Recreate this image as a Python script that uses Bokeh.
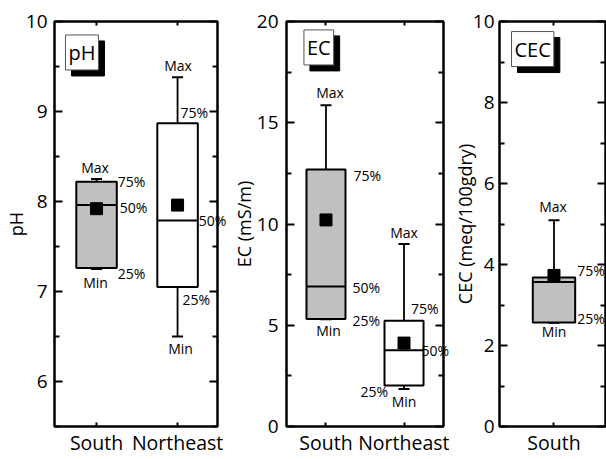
from bokeh.plotting import figure
from bokeh.models import Range1d, LinearAxis, FixedTicker, Label, ColumnDataSource
from bokeh.layouts import row
from bokeh.embed import file_html
from bokeh.resources import INLINE

FONT = "Open Sans"

# ---------------- data ----------------
ph_sites = ["South", "Northeast"]
ph_min = [7.25, 6.50]
ph_q1 = [7.26, 7.05]
ph_med = [7.96, 7.79]
ph_q3 = [8.22, 8.87]
ph_max = [8.25, 9.38]
ph_mean = [7.92, 7.96]
ph_ticks = [6, 7, 8, 9, 10]

ec_sites = ["South", "Northeast"]
ec_min = [5.30, 1.85]
ec_q1 = [5.31, 2.03]
ec_med = [6.91, 3.77]
ec_q3 = [12.69, 5.22]
ec_max = [15.86, 9.01]
ec_mean = [10.20, 4.12]
ec_ticks = [0, 5, 10, 15, 20]

cec_sites = ["South"]
cec_min = [2.56]
cec_q1 = [2.57]
cec_med = [3.57]
cec_q3 = [3.68]
cec_max = [5.09]
cec_mean = [3.73]
cec_ticks = [0, 2, 4, 6, 8, 10]

site_fill = {"South": "#c0c0c0", "Northeast": "white"}

H = 458
TOP, BOTTOM = 21, 31


def panel(sites, vmin, vq1, vmed, vq3, vmax, vmean, yticks, yrange, xrange,
          width, bl, br, box_w, title, tick_standoff, title_standoff, tag, tag_xy, notes):
    p = figure(width=width, height=H, x_range=Range1d(*xrange), y_range=Range1d(*yrange),
               output_backend="svg", toolbar_location=None,
               min_border_left=bl, min_border_right=br,
               min_border_top=TOP, min_border_bottom=BOTTOM)
    p.grid.visible = False
    p.outline_line_color = "black"
    p.outline_line_width = 2
    p.background_fill_color = "white"
    p.border_fill_color = "white"

    xs = list(range(1, len(sites) + 1))
    src = ColumnDataSource(dict(
        x=xs, lo=vmin, q1=vq1, med=vmed, q3=vq3, hi=vmax, mean=vmean,
        left=[x - box_w / 2 for x in xs], right=[x + box_w / 2 for x in xs],
        fill=[site_fill[s] for s in sites]))

    # whiskers + caps
    p.segment(x0="x", y0="q3", x1="x", y1="hi", source=src, line_color="black", line_width=1.8)
    p.segment(x0="x", y0="q1", x1="x", y1="lo", source=src, line_color="black", line_width=1.8)
    p.scatter(x="x", y="hi", source=src, marker="dash", size=11, line_color="black", line_width=2)
    p.scatter(x="x", y="lo", source=src, marker="dash", size=11, line_color="black", line_width=2)
    # boxes
    p.vbar(x="x", width=box_w, bottom="q1", top="q3", source=src,
           fill_color="fill", line_color="black", line_width=2)
    # median
    p.segment(x0="left", y0="med", x1="right", y1="med", source=src, line_color="black", line_width=2)
    # mean
    p.scatter(x="x", y="mean", source=src, marker="square", size=12,
              fill_color="black", line_color="black")

    # axes
    step = yticks[1] - yticks[0]
    minors = [t + step / 2 for t in yticks if yrange[0] <= t + step / 2 <= yrange[1]]
    minors += [t - step / 2 for t in yticks[:1] if t - step / 2 >= yrange[0]]

    def style(ax, tin, mtin):
        ax.axis_line_width = 2
        ax.axis_line_color = "black"
        ax.major_tick_in = tin
        ax.major_tick_out = 0
        ax.minor_tick_in = mtin
        ax.minor_tick_out = 0
        ax.major_tick_line_width = 2
        ax.minor_tick_line_width = 2
        ax.major_label_text_font = FONT
        ax.major_label_text_color = "black"

    ly = p.yaxis[0]
    ly.ticker = FixedTicker(ticks=yticks, minor_ticks=minors)
    style(ly, 8, 5)
    ly.major_label_text_font_size = "19px"
    ly.major_label_standoff = tick_standoff
    ly.axis_label = title
    ly.axis_label_text_font = FONT
    ly.axis_label_text_font_size = "18px"
    ly.axis_label_text_font_style = "normal"
    ly.axis_label_text_color = "black"
    ly.axis_label_standoff = title_standoff

    ry = LinearAxis(ticker=FixedTicker(ticks=yticks, minor_ticks=minors))
    style(ry, 8, 5)
    ry.major_label_overrides = {t: "" for t in yticks}
    ry.major_label_text_font_size = "10px"
    ry.major_label_standoff = 0
    p.add_layout(ry, "right")

    bx = p.xaxis[0]
    bx.ticker = FixedTicker(ticks=xs, minor_ticks=[])
    style(bx, 4, 0)
    bx.major_label_overrides = {x: s for x, s in zip(xs, sites)}
    bx.major_label_text_font_size = "19.5px"
    bx.major_label_standoff = 2

    tx = LinearAxis(ticker=FixedTicker(ticks=xs, minor_ticks=[]))
    style(tx, 4, 0)
    tx.major_label_overrides = {x: "" for x in xs}
    tx.major_label_text_font_size = "1px"
    tx.major_label_standoff = 0
    p.add_layout(tx, "above")

    # tag box with shadow
    for color, dx, dy, border in (("black", 6, -6, "black"), ("white", 0, 0, "#555555")):
        p.add_layout(Label(x=tag_xy[0], y=tag_xy[1], text=tag, x_offset=dx, y_offset=dy,
                           text_align="center", text_baseline="middle",
                           text_font=FONT, text_font_size="20px",
                           text_color="black",
                           background_fill_color=color,
                           border_line_color=border, border_line_width=1,
                           padding=(3, 4)))

    # annotations
    anchors = {"max": (0, vmax), "min": (0, vmin), "q3": (0, vq3), "q1": (0, vq1),
               "q3r": (1, vq3), "q1r": (1, vq1), "medr": (1, vmed), "q1l": (-1, vq1)}
    for i, txt, kind, dx, dy, align, overflow in notes:
        side, vals = anchors[kind]
        x = xs[i] + side * box_w / 2
        lab = Label(x=x, y=vals[i], text=txt, x_offset=dx, y_offset=dy,
                    text_align=align, text_baseline="middle",
                    text_font=FONT, text_font_size="14px", text_color="black")
        # labels that run across the frame edge live in a side panel (not clipped)
        p.add_layout(lab, "above" if overflow else "center")
    return p


ph_notes = [
    (0, "Max", "max", -1.5, 12, "center", False), (0, "75%", "q3r", 1, 0, "left", False),
    (0, "50%", "medr", 3, -2.5, "left", False), (0, "25%", "q1r", 1, -5, "left", False),
    (0, "Min", "min", -1, -13, "center", False),
    (1, "Max", "max", 0.5, 12, "center", False), (1, "75%", "q3", 3, 11, "left", False),
    (1, "50%", "medr", 1, 0, "left", True), (1, "25%", "q1", 5, -12.5, "left", False),
    (1, "Min", "min", 3, -12, "center", False),
]
ec_notes = [
    (0, "Max", "max", 4, 12.5, "center", False), (0, "75%", "q3r", 8, -6, "left", False),
    (0, "50%", "medr", 7, -0.5, "left", False), (0, "25%", "q1r", 7, -1.5, "left", False),
    (0, "Min", "min", 2.5, -11.7, "center", False),
    (1, "Max", "max", 0, 12, "center", False), (1, "75%", "q3", 7, 12, "left", False),
    (1, "50%", "medr", -2, 0, "left", True), (1, "25%", "q1l", 3.5, -6, "right", False),
    (1, "Min", "min", 0, -12, "center", False),
]
cec_notes = [
    (0, "Max", "max", -1, 13.5, "center", False), (0, "75%", "q3r", 2, 6.5, "left", False),
    (0, "25%", "q1r", 2, 4, "left", False), (0, "Min", "min", 0, -8.5, "center", False),
]

p1 = panel(ph_sites, ph_min, ph_q1, ph_med, ph_q3, ph_max, ph_mean, ph_ticks, (5.5, 10),
           (0.481, 2.493), 228, 54, 11, 0.5, "pH", 7, -5, "pH", (0.820, 9.656), ph_notes)
p2 = panel(ec_sites, ec_min, ec_q1, ec_med, ec_q3, ec_max, ec_mean, ec_ticks, (0, 20),
           (0.494, 2.506), 221, 52, 6, 0.5, "EC (mS/m)", 8, -2, "EC", (0.908, 18.72), ec_notes)
p3 = panel(cec_sites, cec_min, cec_q1, cec_med, cec_q3, cec_max, cec_mean, cec_ticks, (0, 10),
           (0.486, 1.486), 157, 49, 1, 0.4, "CEC (meq/100gdry)", 5, -7, "CEC", (0.799, 9.32), cec_notes)

layout = row(p1, p2, p3)
open("out.html", "w").write(file_html(layout, INLINE))
